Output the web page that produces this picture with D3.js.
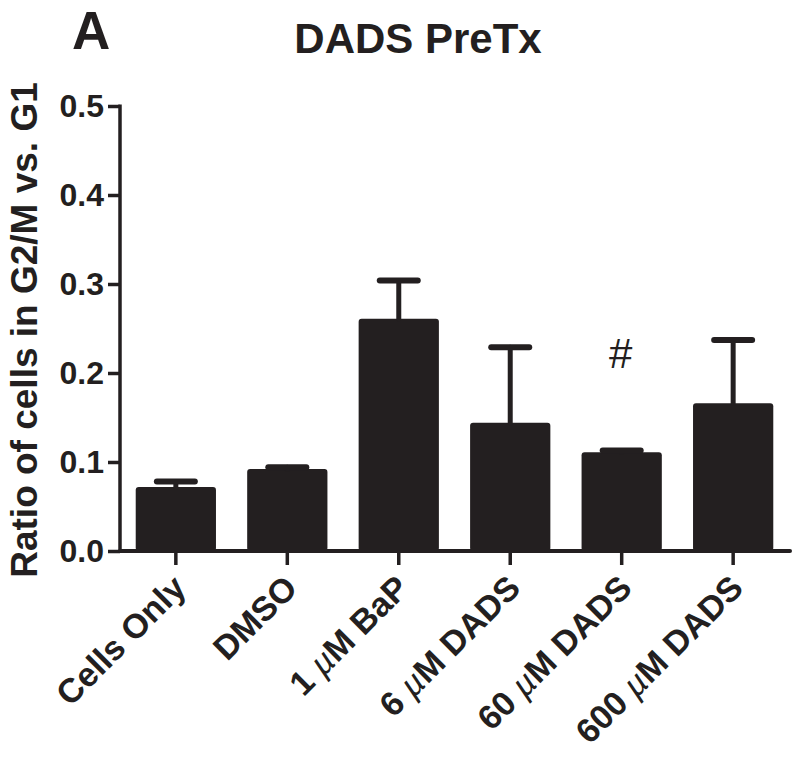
<!DOCTYPE html>
<html>
<head>
<meta charset="utf-8">
<script src="https://cdn.jsdelivr.net/npm/d3@7"></script>
<style>
  html, body { margin: 0; padding: 0; background: #fff; }
  svg text { font-family: "Liberation Sans", Arial, Helvetica, sans-serif; fill: #231f20; }
</style>
</head>
<body>
<svg id="chart" width="800" height="760"></svg>
<script>
// ---- data ----
const categories = ["Cells Only", "DMSO", "1 \u00b5M BaP", "6 \u00b5M DADS", "60 \u00b5M DADS", "600 \u00b5M DADS"];
const means = [0.072, 0.092, 0.261, 0.144, 0.111, 0.166];
const errors = [0.006, 0.002, 0.043, 0.085, 0.002, 0.071];
const yTicks = [0.0, 0.1, 0.2, 0.3, 0.4, 0.5];
const annotations = [{ category: "60 \u00b5M DADS", label: "#" }];
const title = "DADS PreTx";
const panelLabel = "A";
const yLabel = "Ratio of cells in G2/M vs. G1";

// ---- layout ----
const ink = "#231f20";
const svg = d3.select("#chart");
const y = d3.scaleLinear().domain([0, 0.5]).range([551, 106]);
const x = d3.scaleBand().domain(categories).range([119, 790]).paddingInner(0.28).paddingOuter(0.15);
const axisX0 = 120, axisX1 = 790;

// title & panel label
svg.append("text").attr("x", 72).attr("y", 49).attr("font-size", 53).attr("font-weight", "bold").text(panelLabel);
svg.append("text").attr("x", 418).attr("y", 53).attr("text-anchor", "middle").attr("font-size", 42).attr("font-weight", "bold").text(title);

// bars
svg.append("g").selectAll("rect").data(categories).join("rect")
  .attr("x", d => x(d))
  .attr("y", (d, i) => y(means[i]))
  .attr("width", x.bandwidth())
  .attr("height", (d, i) => y(0) - y(means[i]))
  .attr("rx", 3)
  .attr("fill", ink);

// error bars (upper only)
const eg = svg.append("g").attr("stroke", ink).attr("stroke-linecap", "round");
categories.forEach((c, i) => {
  const cx = x(c) + x.bandwidth() / 2;
  const top = y(means[i] + errors[i]);
  eg.append("line").attr("x1", cx).attr("x2", cx).attr("y1", y(means[i])).attr("y2", top).attr("stroke-width", 5);
  eg.append("line").attr("x1", cx - 19).attr("x2", cx + 19).attr("y1", top).attr("y2", top).attr("stroke-width", 6);
});

// y axis
const yAxis = d3.axisLeft(y).tickValues(yTicks).tickFormat(d3.format(".1f")).tickSize(12).tickPadding(4);
const gy = svg.append("g").attr("transform", `translate(${axisX0},0)`).call(yAxis);
gy.select(".domain").remove();
gy.append("line").attr("x1", 0).attr("x2", 0).attr("y1", y(0.5) - 1.5).attr("y2", y(0) + 1.5).attr("stroke", ink).attr("stroke-width", 3.5);
gy.selectAll(".tick line").attr("stroke", ink).attr("stroke-width", 3.5);
gy.selectAll(".tick text").attr("font-size", 32).attr("font-weight", "bold").attr("fill", ink).attr("font-family", "Liberation Sans, Arial, sans-serif");

// x axis
const xAxis = d3.axisBottom(x).tickSize(14).tickFormat("");
const gx = svg.append("g").attr("transform", `translate(0,${y(0)})`).call(xAxis);
gx.select(".domain").remove();
gx.append("line").attr("x1", axisX0).attr("x2", axisX1).attr("y1", 0).attr("y2", 0).attr("stroke", ink).attr("stroke-width", 4).attr("stroke-linecap", "round");
gx.selectAll(".tick line").attr("stroke", ink).attr("stroke-width", 3.5);

// x labels rotated
const lg = svg.append("g");
categories.forEach(c => {
  const cx = x(c) + x.bandwidth() / 2;
  const t = lg.append("text")
    .attr("transform", `translate(${cx + 12},${590}) rotate(-45)`)
    .attr("text-anchor", "end")
    .attr("font-size", 34)
    .attr("font-weight", "bold");
  const parts = c.split("\u00b5");
  if (parts.length > 1) {
    t.append("tspan").text(parts[0]);
    t.append("tspan").attr("font-weight", "normal").attr("font-style", "italic").text("\u00b5");
    t.append("tspan").text(parts[1]);
  } else {
    t.text(c);
  }
});

// y label
svg.append("text")
  .attr("transform", `translate(37,330) rotate(-90)`)
  .attr("text-anchor", "middle")
  .attr("font-size", 37)
  .attr("font-weight", "bold")
  .text(yLabel);

// annotations
annotations.forEach(a => {
  svg.append("text")
    .attr("x", x(a.category) + x.bandwidth() / 2 - 1)
    .attr("y", 368)
    .attr("text-anchor", "middle")
    .attr("font-size", 42)
    .text(a.label);
});
</script>
</body>
</html>
